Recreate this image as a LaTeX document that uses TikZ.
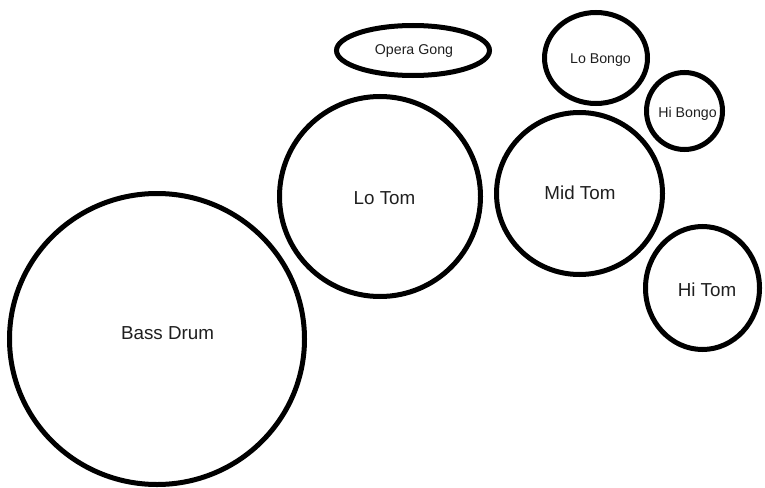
\documentclass[tikz,border=0pt]{standalone}
\usepackage{fontspec}
\setmainfont{Liberation Sans}
\usetikzlibrary{shapes.geometric}
\begin{document}
\begin{tikzpicture}[x=1pt,y=-1pt,
  drum/.style={draw=black, line width=5pt, ellipse, inner sep=0pt, outer sep=0pt},
  lbl/.style={inner sep=0pt, text=black!88, text depth=0pt, anchor=center},
  big/.style={lbl, text height=13.5pt, font=\fontsize{18.8}{22}\selectfont},
  small/.style={lbl, text height=10.2pt, font=\fontsize{14.2}{17}\selectfont}]
\useasboundingbox (0,0) rectangle (765,487);
\node[drum, minimum width=295pt, minimum height=291pt] (bass) at (157,339) {};
\node[big] (basst) at (167.5,333) {Bass Drum};
\node[drum, minimum width=201pt, minimum height=200pt] (lotom) at (380,196.5) {};
\node[big] (lotomt) at (384.5,198) {Lo Tom};
\node[drum, minimum width=166pt, minimum height=162pt] (midtom) at (579.5,193.5) {};
\node[big] (midtomt) at (580,193) {Mid Tom};
\node[drum, minimum width=114pt, minimum height=123pt] (hitom) at (702.5,288) {};
\node[big] (hitomt) at (707,290) {Hi Tom};
\node[drum, minimum width=103pt, minimum height=91pt] (lobongo) at (596,58) {};
\node[small] (lobongot) at (600.5,58) {Lo Bongo};
\node[drum, minimum width=76pt, minimum height=77pt] (hibongo) at (684.5,111) {};
\node[small] (hibongot) at (687.5,112) {Hi Bongo};
\node[drum, minimum width=153pt, minimum height=50pt] (gong) at (413,50.5) {};
\node[small] (gongt) at (414,49) {Opera Gong};
\end{tikzpicture}
\end{document}
